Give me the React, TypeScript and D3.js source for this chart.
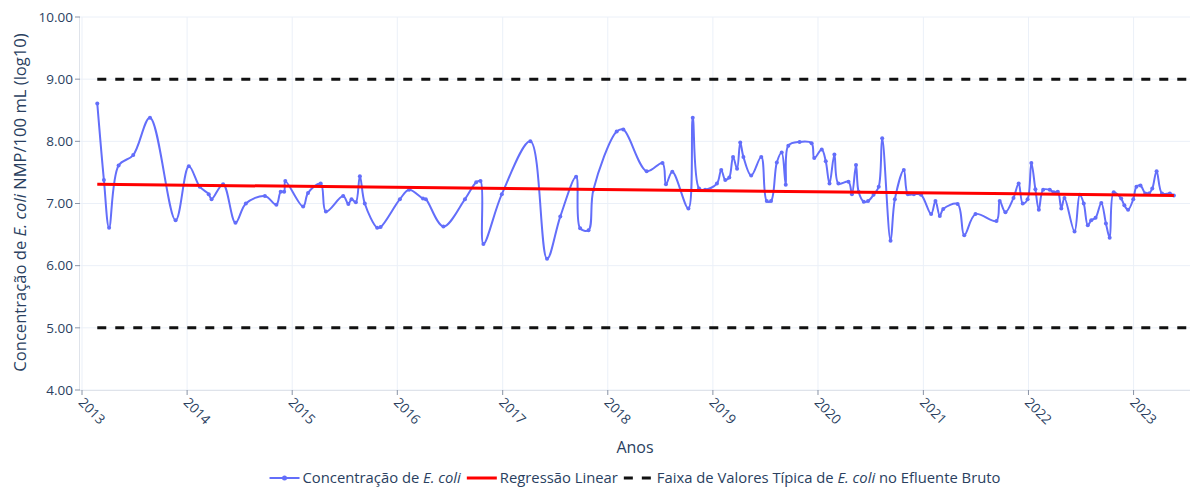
import React, { useEffect, useRef } from 'react';
import * as d3 from 'd3';

// amostras (data, log10 NMP/100 mL)
const sampleDates = [
  '2013-02-23', '2013-03-18', '2013-04-05', '2013-05-08', '2013-06-28', '2013-08-25', '2013-11-22',
  '2014-01-07', '2014-02-14', '2014-03-17', '2014-03-27', '2014-05-06', '2014-06-18', '2014-07-24',
  '2014-09-28', '2014-11-07', '2014-11-22', '2014-12-04', '2014-12-08',
  '2015-02-08', '2015-02-25', '2015-04-10', '2015-04-28', '2015-06-27', '2015-07-15', '2015-07-26',
  '2015-08-10', '2015-08-24', '2015-09-10', '2015-10-23', '2015-11-04',
  '2016-01-10', '2016-02-11', '2016-03-30', '2016-04-09', '2016-06-09', '2016-08-23', '2016-10-01',
  '2016-10-16', '2016-10-26', '2016-12-29',
  '2017-04-07', '2017-06-04', '2017-07-20', '2017-09-13', '2017-09-27', '2017-10-26', '2017-11-12',
  '2018-02-01', '2018-02-24', '2018-05-16', '2018-07-10', '2018-07-22', '2018-08-13', '2018-10-08',
  '2018-10-23', '2018-11-14', '2018-12-05',
  '2019-01-15', '2019-01-30', '2019-02-13', '2019-02-27', '2019-03-12', '2019-03-26', '2019-04-06',
  '2019-04-17', '2019-05-14', '2019-06-18', '2019-07-07', '2019-07-22', '2019-08-11', '2019-08-28',
  '2019-09-11', '2019-09-20', '2019-10-29', '2019-12-10', '2019-12-19',
  '2020-01-14', '2020-01-28', '2020-02-10', '2020-02-27', '2020-03-12', '2020-04-16', '2020-04-28',
  '2020-05-12', '2020-05-21', '2020-06-08', '2020-06-23', '2020-07-12', '2020-07-30', '2020-08-11',
  '2020-09-09', '2020-09-24', '2020-10-25', '2020-11-08', '2020-11-29', '2020-12-24',
  '2021-01-28', '2021-02-12', '2021-02-27', '2021-03-11', '2021-04-30', '2021-05-23', '2021-07-01',
  '2021-09-12', '2021-09-23', '2021-10-13', '2021-11-10', '2021-11-28', '2021-12-12', '2021-12-29',
  '2022-01-11', '2022-01-25', '2022-02-06', '2022-02-21', '2022-03-16', '2022-03-30', '2022-04-13',
  '2022-04-25', '2022-05-06', '2022-06-10', '2022-06-28', '2022-07-12', '2022-07-26', '2022-08-07',
  '2022-08-22', '2022-09-11', '2022-09-27', '2022-10-10', '2022-10-24', '2022-11-19', '2022-11-30',
  '2022-12-13', '2022-12-31',
  '2023-01-11', '2023-01-25', '2023-02-11', '2023-02-23', '2023-03-07', '2023-03-22', '2023-04-10',
  '2023-05-07', '2023-05-21',
];

const ecoliValues = [
  8.61, 7.38, 6.61, 7.61, 7.78, 8.38, 6.73,
  7.60, 7.27, 7.15, 7.07, 7.31, 6.69, 7.00,
  7.12, 6.98, 7.19, 7.19, 7.36,
  6.95, 7.17, 7.32, 6.87, 7.12, 6.99, 7.07,
  7.02, 7.44, 7.00, 6.61, 6.62,
  7.07, 7.22, 7.08, 7.07, 6.63, 7.07, 7.34,
  7.36, 6.35, 7.15,
  8.00, 6.11, 6.79, 7.43, 6.60, 6.57, 7.22,
  8.16, 8.19, 7.52, 7.65, 7.31, 7.51, 6.92,
  8.38, 7.24, 7.22,
  7.32, 7.54, 7.38, 7.42, 7.75, 7.56, 7.98,
  7.75, 7.45, 7.75, 7.04, 7.04, 7.66, 7.82,
  7.30, 7.93, 7.99, 7.97, 7.73,
  7.87, 7.68, 7.32, 7.79, 7.32, 7.35, 7.15,
  7.62, 7.19, 7.03, 7.04, 7.14, 7.27, 8.05,
  6.40, 7.07, 7.54, 7.15, 7.15, 7.14,
  6.83, 7.04, 6.80, 6.91, 6.99, 6.49, 6.83,
  6.72, 7.04, 6.86, 7.09, 7.32, 7.00, 7.07,
  7.65, 7.23, 6.90, 7.22, 7.22, 7.18, 7.19,
  6.92, 7.09, 6.55, 7.14, 7.00, 6.65, 6.73,
  6.77, 7.01, 6.68, 6.45, 7.18, 7.08, 6.97,
  6.90, 7.07,
  7.27, 7.29, 7.16, 7.16, 7.24, 7.52, 7.16,
  7.16, 7.13,
];

// regressão linear: valores no início e no fim da série
const regressionValues = [7.31, 7.13];

// faixa típica no efluente bruto
const bandLevels = [5, 9];
const bandDates = ['2013-02-23', '2023-07-16'];

const xDomain = ['2012-12-25', '2023-07-16'];
const yTicks = [4, 5, 6, 7, 8, 9, 10];
const yearTicks = d3.range(2013, 2024);

const TEXT = '#2a3f5f';
const FONT = '"Open Sans", verdana, arial, sans-serif';

export default function App() {
  const ref = useRef<SVGSVGElement>(null);

  useEffect(() => {
    const width = 1194;
    const height = 487;
    const margin = { top: 17, right: 4, bottom: 97, left: 80 };
    const parse = d3.timeParse('%Y-%m-%d');

    const svg = d3.select(ref.current);
    svg.selectAll('*').remove();
    svg.attr('width', width).attr('height', height);

    const x = d3.scaleTime()
      .domain(xDomain.map(d => parse(d) as Date))
      .range([margin.left, width - margin.right]);
    const y = d3.scaleLinear().domain([4, 10]).range([height - margin.bottom, margin.top]);

    const data = sampleDates.map((d, i) => ({ date: parse(d) as Date, v: ecoliValues[i] }));

    // grid
    svg.append('g')
      .selectAll('line')
      .data(yTicks)
      .enter()
      .append('line')
      .attr('x1', margin.left).attr('x2', width - margin.right)
      .attr('y1', d => y(d)).attr('y2', d => y(d))
      .attr('stroke', '#ebf0f8');
    svg.append('g')
      .selectAll('line')
      .data(yearTicks)
      .enter()
      .append('line')
      .attr('x1', d => x(new Date(d, 0, 1))).attr('x2', d => x(new Date(d, 0, 1)))
      .attr('y1', margin.top).attr('y2', height - margin.bottom)
      .attr('stroke', '#ebf0f8');

    // axis lines
    svg.append('line')
      .attr('x1', margin.left).attr('x2', width - margin.right)
      .attr('y1', height - margin.bottom + 0.5).attr('y2', height - margin.bottom + 0.5)
      .attr('stroke', '#dfe3ea');
    svg.append('line')
      .attr('x1', margin.left - 0.5).attr('x2', margin.left - 0.5)
      .attr('y1', margin.top).attr('y2', height - margin.bottom)
      .attr('stroke', '#dfe3ea');

    // y ticks
    const yAx = svg.append('g').attr('font-family', FONT).attr('font-size', 13.5).attr('fill', TEXT);
    yTicks.forEach(t => {
      yAx.append('line')
        .attr('x1', margin.left - 5).attr('x2', margin.left)
        .attr('y1', y(t)).attr('y2', y(t))
        .attr('stroke', '#8a94a6');
      yAx.append('text')
        .attr('x', margin.left - 7).attr('y', y(t))
        .attr('dy', '0.35em')
        .attr('text-anchor', 'end')
        .text(d3.format('.2f')(t));
    });

    // x ticks
    const xAx = svg.append('g').attr('font-family', FONT).attr('font-size', 13.5).attr('fill', TEXT);
    yearTicks.forEach(t => {
      const px = x(new Date(t, 0, 1));
      xAx.append('line')
        .attr('x1', px).attr('x2', px)
        .attr('y1', height - margin.bottom).attr('y2', height - margin.bottom + 5)
        .attr('stroke', '#8a94a6');
      xAx.append('text')
        .attr('transform', `translate(${px - 1},${height - margin.bottom + 10}) rotate(45)`)
        .attr('dy', '0.35em')
        .text(t);
    });

    // axis titles
    svg.append('text')
      .attr('x', (margin.left + width - margin.right) / 2)
      .attr('y', 453)
      .attr('text-anchor', 'middle')
      .attr('font-family', FONT).attr('font-size', 16).attr('fill', TEXT)
      .text('Anos');

    const yt = svg.append('text')
      .attr('transform', `translate(26,${(margin.top + height - margin.bottom) / 2 - 1}) rotate(-90)`)
      .attr('text-anchor', 'middle')
      .attr('font-family', FONT).attr('font-size', 16.6).attr('fill', TEXT);
    yt.append('tspan').text('Concentração de ');
    yt.append('tspan').attr('font-style', 'italic').text('E. coli');
    yt.append('tspan').text(' NMP/100 mL (log10)');

    // dashed band limits
    const bandX = bandDates.map(d => x(parse(d) as Date));
    svg.append('g')
      .selectAll('line')
      .data(bandLevels)
      .enter()
      .append('line')
      .attr('x1', bandX[0]).attr('x2', bandX[1])
      .attr('y1', d => y(d)).attr('y2', d => y(d))
      .attr('stroke', '#111')
      .attr('stroke-width', 3)
      .attr('stroke-dasharray', '9,9');

    // E. coli series
    const line = d3.line<{ date: Date; v: number }>()
      .x(d => x(d.date))
      .y(d => y(d.v))
      .curve(d3.curveCatmullRom.alpha(0.5));

    svg.append('path')
      .datum(data)
      .attr('d', line)
      .attr('fill', 'none')
      .attr('stroke', '#636efa')
      .attr('stroke-width', 2);

    svg.append('g')
      .selectAll('circle')
      .data(data)
      .enter()
      .append('circle')
      .attr('cx', d => x(d.date))
      .attr('cy', d => y(d.v))
      .attr('r', 2)
      .attr('fill', '#636efa');

    // regression
    const first = data[0].date;
    const last = data[data.length - 1].date;
    svg.append('line')
      .attr('x1', x(first)).attr('x2', x(last))
      .attr('y1', y(regressionValues[0])).attr('y2', y(regressionValues[1]))
      .attr('stroke', '#ff0000')
      .attr('stroke-width', 3);

    // legend
    const legendY = 478;
    const legend = svg.append('g').attr('font-family', FONT).attr('font-size', 14.8).attr('fill', TEXT);
    const items = [
      { parts: [['Concentração de ', false], ['E. coli', true]], kind: 'series' },
      { parts: [['Regressão Linear', false]], kind: 'reg' },
      { parts: [['Faixa de Valores Típica de ', false], ['E. coli', true], [' no Efluente Bruto', false]], kind: 'band' },
    ];
    const groups = items.map(it => {
      const g = legend.append('g');
      if (it.kind === 'series') {
        g.append('line').attr('x1', 0).attr('x2', 30).attr('y1', 0).attr('y2', 0)
          .attr('stroke', '#636efa').attr('stroke-width', 2);
        g.append('circle').attr('cx', 15).attr('cy', 0).attr('r', 2.5).attr('fill', '#636efa');
      } else if (it.kind === 'reg') {
        g.append('line').attr('x1', 0).attr('x2', 30).attr('y1', 0).attr('y2', 0)
          .attr('stroke', '#ff0000').attr('stroke-width', 3);
      } else {
        g.append('line').attr('x1', 0).attr('x2', 30).attr('y1', 0).attr('y2', 0)
          .attr('stroke', '#111').attr('stroke-width', 3).attr('stroke-dasharray', '9,9');
      }
      const t = g.append('text').attr('x', 33).attr('dy', '0.35em');
      it.parts.forEach(([s, it2]) => {
        const sp = t.append('tspan').text(s as string);
        if (it2) sp.attr('font-style', 'italic');
      });
      const w = 33 + (t.node() as SVGTextElement).getComputedTextLength();
      return { g, w };
    });
    const gap = 6;
    const total = groups.reduce((a, b) => a + b.w, 0) + gap * (groups.length - 1);
    let cx = (margin.left + width - margin.right) / 2 - total / 2;
    groups.forEach(({ g, w }) => {
      g.attr('transform', `translate(${cx},${legendY})`);
      cx += w + gap;
    });
  }, []);

  return (
    <svg
      ref={ref}
      style={{ position: 'absolute', left: 0, top: 0, background: '#fff', display: 'block' }}
    />
  );
}
